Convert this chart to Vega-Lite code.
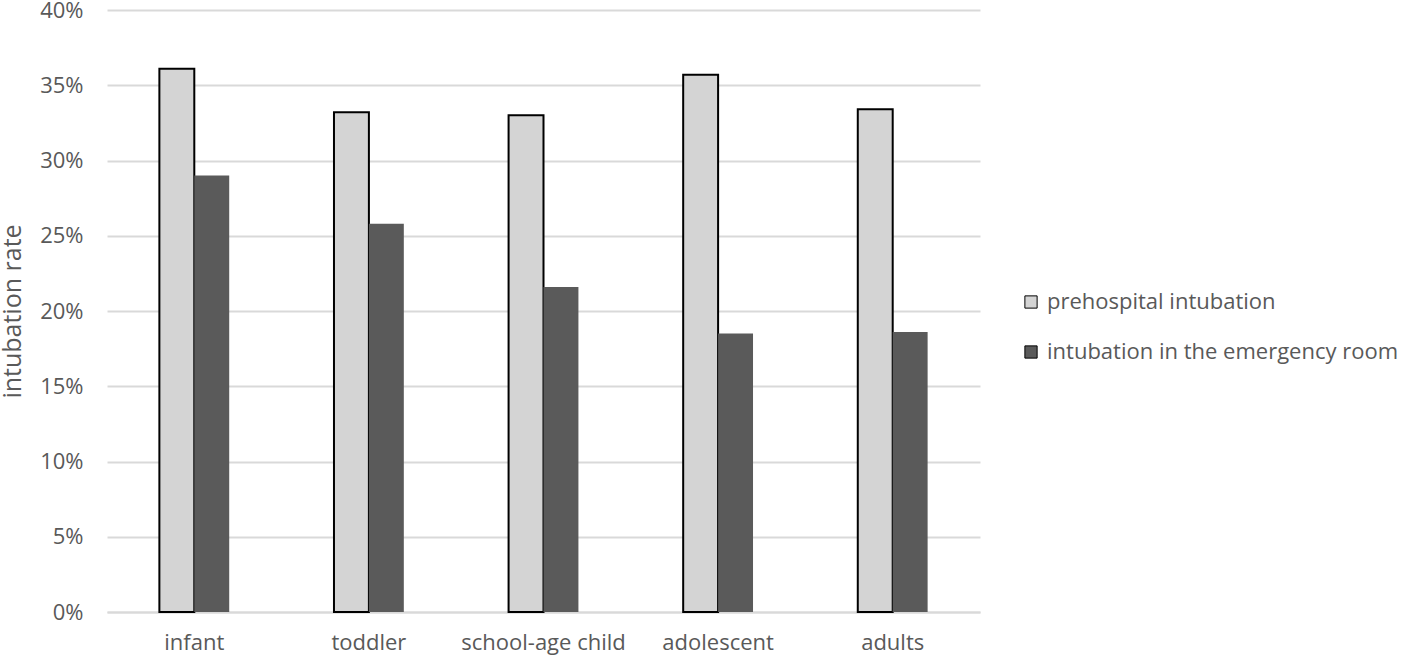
{
  "$schema": "https://vega.github.io/schema/vega-lite/v6.json",
  "width": 873,
  "height": 602,
  "autosize": "none",
  "padding": {"left": 107, "top": 10, "right": 437, "bottom": 46},
  "background": "white",
  "config": {
    "font": "Open Sans",
    "view": {"stroke": null}
  },
  "data": {
    "values": [
      {"group": "infant", "series": "prehospital intubation", "rate": 0.361},
      {"group": "infant", "series": "intubation in the emergency room", "rate": 0.290},
      {"group": "toddler", "series": "prehospital intubation", "rate": 0.332},
      {"group": "toddler", "series": "intubation in the emergency room", "rate": 0.258},
      {"group": "school-age child", "series": "prehospital intubation", "rate": 0.330},
      {"group": "school-age child", "series": "intubation in the emergency room", "rate": 0.216},
      {"group": "adolescent", "series": "prehospital intubation", "rate": 0.357},
      {"group": "adolescent", "series": "intubation in the emergency room", "rate": 0.185},
      {"group": "adults", "series": "prehospital intubation", "rate": 0.334},
      {"group": "adults", "series": "intubation in the emergency room", "rate": 0.186}
    ]
  },
  "mark": {"type": "bar", "strokeWidth": 2},
  "encoding": {
    "x": {
      "field": "group", "type": "nominal", "sort": null,
      "scale": {"paddingInner": 0.6, "paddingOuter": 0.3},
      "axis": {
        "title": null, "labelAngle": 0, "labelFontSize": 22, "labelColor": "#595959",
        "labelPadding": 20, "ticks": false, "domainColor": "#d9d9d9", "domainWidth": 2
      }
    },
    "xOffset": {
      "field": "series", "type": "nominal", "sort": null,
      "scale": {"paddingInner": 0, "paddingOuter": 0}
    },
    "y": {
      "field": "rate", "type": "quantitative",
      "scale": {"domain": [0, 0.4], "nice": false},
      "axis": {
        "title": "intubation rate", "titleFontSize": 25, "titleFontWeight": "normal", "titleColor": "#595959",
        "titlePadding": 14,
        "format": ".0%", "values": [0, 0.05, 0.1, 0.15, 0.2, 0.25, 0.3, 0.35, 0.4],
        "labelFontSize": 22, "labelColor": "#595959", "labelPadding": 24,
        "ticks": false, "domain": false, "gridColor": "#d9d9d9", "gridWidth": 2
      }
    },
    "color": {
      "field": "series", "type": "nominal", "sort": null,
      "scale": {"domain": ["prehospital intubation", "intubation in the emergency room"], "range": ["#d4d4d4", "#5a5a5a"]},
      "legend": {
        "title": null, "orient": "none", "legendX": 913, "legendY": 281,
        "symbolType": "square", "symbolSize": 150, "symbolStrokeColor": "black", "symbolStrokeWidth": 1,
        "labelFontSize": 22, "labelColor": "#595959", "rowPadding": 28, "labelOffset": 5, "labelLimit": 0
      }
    },
    "stroke": {
      "condition": {"test": "datum.series == 'prehospital intubation'", "value": "black"},
      "value": null
    }
  }
}
